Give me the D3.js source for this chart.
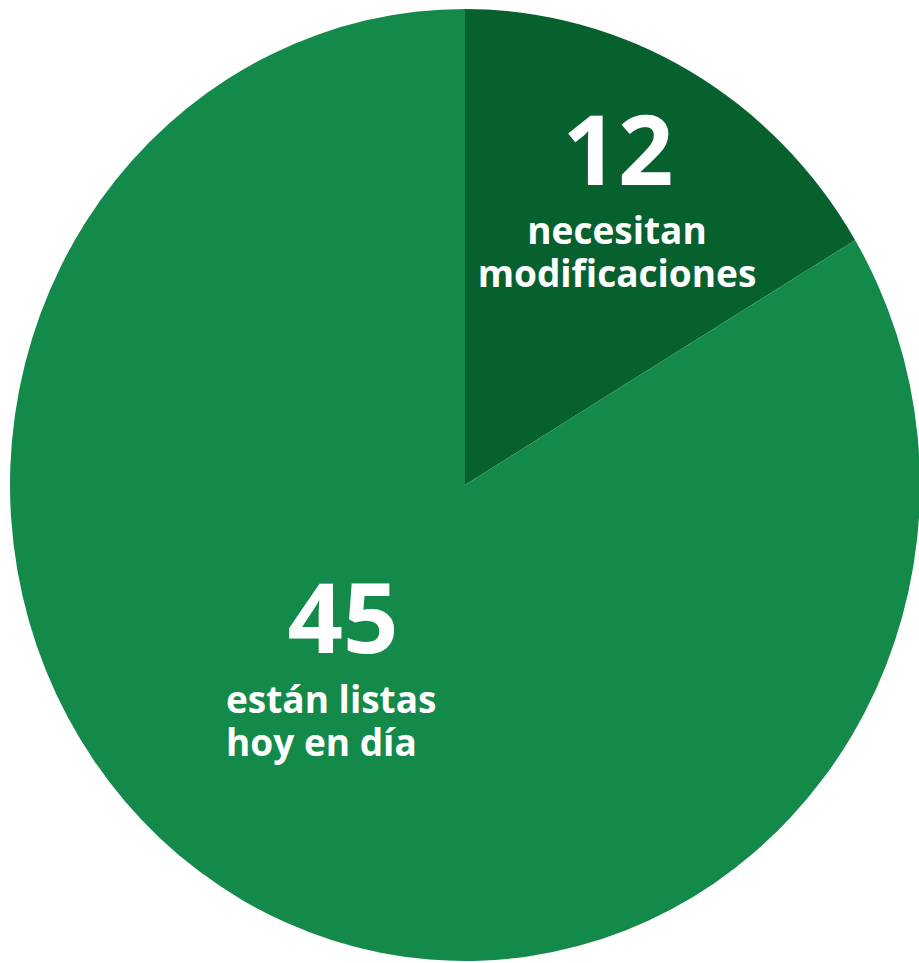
<!DOCTYPE html>
<html lang="es">
<head>
    <meta charset="UTF-8">
    <title>pie</title>
    <style>
        *{ box-sizing: border-box; }
        body{ margin: 0; background: #fff; }
        #main{ width: 919px; height: 963px; }
        text{ font-family: "Open Sans", "Noto Sans", sans-serif; font-weight: 700; fill: #fff; }
    </style>
</head>
<body>
<div id="main"></div>
<script src="https://d3js.org/d3.v7.min.js"></script>
<script>
    /* data */
    const categories = ['necesitan modificaciones', 'están listas hoy en día']
    const counts = [12, 45]
    // share of the circle as drawn in the picture (percent)
    const shares = [16.4, 83.6]
    const colors = ['#07612f', '#148a4a']
    const labelLines = [['necesitan', 'modificaciones'], ['están listas', 'hoy en día']]

    const width = 919
    const height = 963

    const svg = d3.select('#main').append('svg')
        .attr('width', width)
        .attr('height', height)
        .attr('viewBox', `0 0 ${width} ${height}`)

    const cx = 465, cy = 485
    const rx = 455, ry = 476

    const pie = d3.pie().sort(null).value(d => d)
    const arcs = pie(shares)
    const arc = d3.arc().innerRadius(0).outerRadius(rx)

    const g = svg.append('g')
        .attr('transform', `translate(${cx},${cy}) scale(1,${ry / rx})`)

    g.selectAll('path')
        .data(arcs)
        .join('path')
        .attr('d', arc)
        .attr('fill', (d, i) => colors[i])

    /* labels */
    const labels = [
        {num: [618, 185], anchor: 'middle', lx: 617, ly: 244},
        {num: [343, 653], anchor: 'start', lx: 226, ly: 713}
    ]

    labels.forEach((p, i) => {
        svg.append('text')
            .attr('x', p.num[0]).attr('y', p.num[1])
            .attr('text-anchor', 'middle')
            .style('font-size', '97px')
            .text(counts[i])
        const t = svg.append('text')
            .attr('x', p.lx).attr('y', p.ly)
            .attr('text-anchor', p.anchor)
            .style('font-size', '37px')
        labelLines[i].forEach((line, j) => {
            t.append('tspan')
                .attr('x', p.lx)
                .attr('dy', j === 0 ? 0 : 43)
                .text(line)
        })
    })
</script>
</body>
</html>
